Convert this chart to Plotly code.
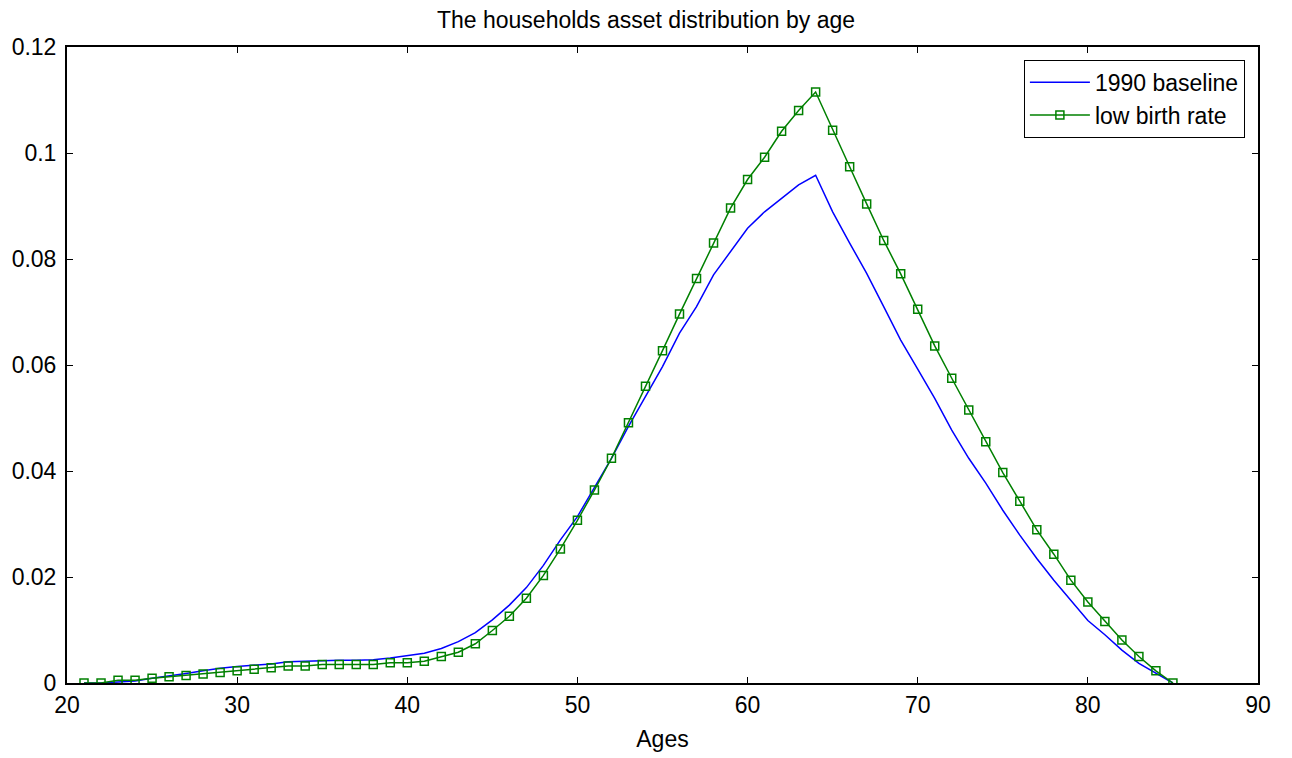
import plotly.graph_objects as go

ages = list(range(21, 86))

baseline = [0.0, 0.0, 0.0002, 0.0004, 0.0009, 0.0013, 0.0018, 0.0023, 0.0028, 0.0031,
            0.0033, 0.0036, 0.0040, 0.0041, 0.0043, 0.0043, 0.0043, 0.0044, 0.0047, 0.0051,
            0.0056, 0.0065, 0.0078, 0.0095, 0.0119, 0.0147, 0.0180, 0.0222, 0.0270, 0.0314,
            0.0370, 0.0424, 0.0484, 0.0540, 0.0597, 0.0660, 0.0710, 0.0770, 0.0814, 0.0858,
            0.0889, 0.0915, 0.0940, 0.0958, 0.0889, 0.0830, 0.0773, 0.0710, 0.0647, 0.0592,
            0.0537, 0.0477, 0.0424, 0.0377, 0.0326, 0.0279, 0.0235, 0.0194, 0.0157, 0.0118,
            0.0091, 0.0062, 0.0037, 0.0019, 0.0]

low_birth = [0.0, 0.0, 0.0005, 0.0005, 0.0009, 0.0012, 0.0014, 0.0017, 0.0020, 0.0023,
             0.0026, 0.0029, 0.0032, 0.0032, 0.0035, 0.0035, 0.0035, 0.0035, 0.0038, 0.0038,
             0.0041, 0.0050, 0.0058, 0.0074, 0.0099, 0.0126, 0.0160, 0.0203, 0.0253, 0.0307,
             0.0364, 0.0424, 0.0491, 0.0560, 0.0627, 0.0696, 0.0763, 0.0830, 0.0896, 0.0950,
             0.0992, 0.1041, 0.1080, 0.1115, 0.1043, 0.0974, 0.0904, 0.0835, 0.0772, 0.0705,
             0.0636, 0.0575, 0.0515, 0.0455, 0.0397, 0.0343, 0.0289, 0.0243, 0.0194, 0.0153,
             0.0116, 0.0081, 0.0050, 0.0023, 0.0]

x_ticks = [20, 30, 40, 50, 60, 70, 80, 90]
y_ticks = [0, 0.02, 0.04, 0.06, 0.08, 0.1, 0.12]
y_tick_labels = ["0", "0.02", "0.04", "0.06", "0.08", "0.1", "0.12"]

FONT = "Liberation Sans, Arial, sans-serif"
FS = 23

fig = go.Figure()
fig.add_trace(go.Scatter(x=ages, y=baseline, mode="lines", name="1990 baseline",
                         line=dict(color="#0000ff", width=1.5)))
fig.add_trace(go.Scatter(x=ages, y=low_birth, mode="lines+markers", name="low birth rate",
                         line=dict(color="#008000", width=1.5),
                         marker=dict(symbol="square-open", size=8, color="#008000",
                                     line=dict(width=1.5, color="#008000"))))

axis_common = dict(showline=True, linecolor="black", linewidth=2, mirror="ticks",
                   ticks="inside", ticklen=6, tickwidth=1, tickcolor="black",
                   showgrid=False, zeroline=False, automargin=False,
                   tickfont=dict(family=FONT, size=FS, color="black"))

fig.update_layout(
    width=1292, height=758,
    margin=dict(l=67, r=34, t=47, b=75),
    paper_bgcolor="white", plot_bgcolor="white",
    font=dict(family=FONT, color="black"),
    title=dict(text="The households asset distribution by age", x=0.5, xanchor="center",
               y=1 - 20 / 758, yanchor="middle", yref="container",
               font=dict(family=FONT, size=FS, color="black")),
    xaxis=dict(range=[20, 90], tickvals=x_ticks,
               title=dict(text="Ages", font=dict(family=FONT, size=FS, color="black"), standoff=14),
               **axis_common),
    yaxis=dict(range=[0, 0.12], tickvals=y_ticks, ticktext=y_tick_labels,
               ticklabelstandoff=4, **axis_common),
    legend=dict(x=0.989, y=0.98, xanchor="right", yanchor="top",
                bordercolor="black", borderwidth=1, bgcolor="white",
                font=dict(family=FONT, size=FS, color="black"),
                tracegroupgap=0, itemwidth=60),
    showlegend=True,
)

fig.write_html("out.html")
